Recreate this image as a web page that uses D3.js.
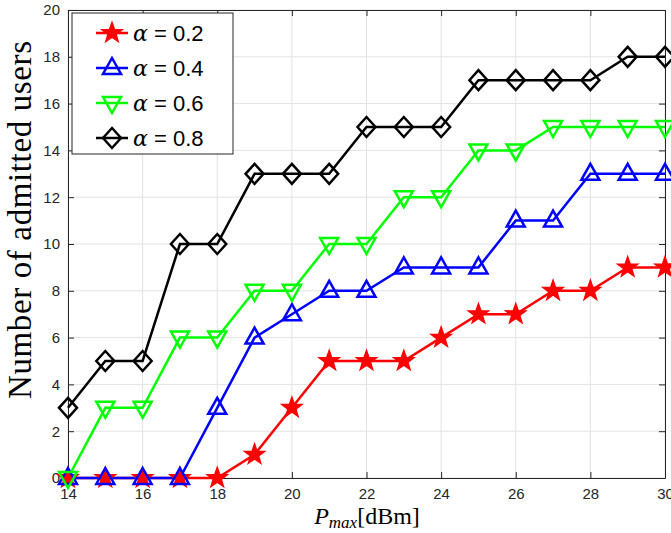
<!DOCTYPE html>
<html>
<head>
<meta charset="utf-8">
<script src="https://cdn.jsdelivr.net/npm/d3@7"></script>
<style>
  body { margin: 0; background: #fff; }
  svg text { font-family: "Liberation Sans", Arial, sans-serif; }
</style>
</head>
<body>
<div id="chart"></div>
<script>
const svgWidth = 671;
const svgHeight = 533;

const margin = { top: 10, right: 6, bottom: 55, left: 68 };
const width = svgWidth - margin.left - margin.right;
const height = svgHeight - margin.top - margin.bottom;

// data
const pmax = [14, 15, 16, 17, 18, 19, 20, 21, 22, 23, 24, 25, 26, 27, 28, 29, 30];
const alpha02 = [0, 0, 0, 0, 0, 1, 3, 5, 5, 5, 6, 7, 7, 8, 8, 9, 9];
const alpha04 = [0, 0, 0, 0, 3, 6, 7, 8, 8, 9, 9, 9, 11, 11, 13, 13, 13];
const alpha06 = [0, 3, 3, 6, 6, 8, 8, 10, 10, 12, 12, 14, 14, 15, 15, 15, 15];
const alpha08 = [3, 5, 5, 10, 10, 13, 13, 13, 15, 15, 15, 17, 17, 17, 17, 18, 18];
const xTicks = [14, 16, 18, 20, 22, 24, 26, 28, 30];
const yTicks = [0, 2, 4, 6, 8, 10, 12, 14, 16, 18, 20];

const series = [
    { name: "0.2", values: alpha02, color: "#ff0000", marker: "star" },
    { name: "0.4", values: alpha04, color: "#0000ff", marker: "up" },
    { name: "0.6", values: alpha06, color: "#00ff00", marker: "down" },
    { name: "0.8", values: alpha08, color: "#000000", marker: "diamond" }
];

const xScale = d3.scaleLinear().domain([14, 30]).range([0, width]);
const yScale = d3.scaleLinear().domain([0, 20]).range([height, 0]);

function markerPath(type) {
    if (type === "star") {
        const pts = [];
        for (let i = 0; i < 10; i++) {
            const r = i % 2 === 0 ? 10.5 : 4.2;
            const a = -Math.PI / 2 + i * Math.PI / 5;
            pts.push([r * Math.cos(a), r * Math.sin(a)]);
        }
        return "M" + pts.map(p => p.join(",")).join("L") + "Z";
    }
    if (type === "up") return "M0,-10L9,6L-9,6Z";
    if (type === "down") return "M0,10L9,-6L-9,-6Z";
    return "M0,-10L9,0L0,10L-9,0Z";
}

const svg = d3.select("#chart").append("svg")
    .attr("width", svgWidth)
    .attr("height", svgHeight);

const chartGroup = svg.append("g")
    .attr("transform", `translate(${margin.left}, ${margin.top})`);

// grid
chartGroup.append("g")
    .selectAll("line")
    .data(xTicks)
    .enter().append("line")
    .attr("x1", d => xScale(d)).attr("x2", d => xScale(d))
    .attr("y1", 0).attr("y2", height)
    .attr("stroke", "#e3e3e3").attr("stroke-width", 1);
chartGroup.append("g")
    .selectAll("line")
    .data(yTicks)
    .enter().append("line")
    .attr("y1", d => yScale(d)).attr("y2", d => yScale(d))
    .attr("x1", 0).attr("x2", width)
    .attr("stroke", "#e3e3e3").attr("stroke-width", 1);

// axes
const axisX = chartGroup.append("g")
    .attr("transform", `translate(0, ${height})`)
    .call(d3.axisBottom(xScale).tickValues(xTicks).tickSizeInner(-6).tickSizeOuter(0).tickPadding(10));
const axisY = chartGroup.append("g")
    .call(d3.axisLeft(yScale).tickValues(yTicks).tickSizeInner(-6).tickSizeOuter(0).tickPadding(8));
const axisTop = chartGroup.append("g")
    .call(d3.axisTop(xScale).tickValues(xTicks).tickSizeInner(-6).tickSizeOuter(0).tickFormat(""));
const axisRight = chartGroup.append("g")
    .attr("transform", `translate(${width}, 0)`)
    .call(d3.axisRight(yScale).tickValues(yTicks).tickSizeInner(-6).tickSizeOuter(0).tickFormat(""));

[axisX, axisY, axisTop, axisRight].forEach(a => {
    a.select(".domain").attr("stroke", "#262626").attr("stroke-width", 1);
    a.selectAll(".tick line").attr("stroke", "#262626");
    a.selectAll(".tick text")
        .attr("fill", "#262626")
        .style("font-family", "'Liberation Sans', Arial, sans-serif")
        .style("font-size", "15px");
});

// lines and markers
const line = d3.line()
    .x((d, i) => xScale(pmax[i]))
    .y(d => yScale(d));

series.forEach(s => {
    chartGroup.append("path")
        .datum(s.values)
        .attr("d", line)
        .attr("fill", "none")
        .attr("stroke", s.color)
        .attr("stroke-width", 2.5);
});
series.forEach(s => {
    chartGroup.selectAll(null)
        .data(s.values)
        .enter()
        .append("path")
        .attr("transform", (d, i) => `translate(${xScale(pmax[i])}, ${yScale(d)})`)
        .attr("d", markerPath(s.marker))
        .attr("fill", s.marker === "star" ? s.color : "none")
        .attr("stroke", s.color)
        .attr("stroke-width", s.marker === "star" ? 1.5 : 2.5);
});

// legend
const legend = svg.append("g").attr("transform", "translate(72, 13)");
legend.append("rect")
    .attr("width", 161).attr("height", 141)
    .attr("fill", "#fff").attr("stroke", "#262626").attr("stroke-width", 1);
series.forEach((s, i) => {
    const g = legend.append("g").attr("transform", `translate(0, ${20 + i * 35})`);
    g.append("line").attr("x1", 24).attr("x2", 56).attr("y1", 0).attr("y2", 0)
        .attr("stroke", s.color).attr("stroke-width", 2.5);
    g.append("path").attr("transform", "translate(40, 0)")
        .attr("d", markerPath(s.marker))
        .attr("fill", s.marker === "star" ? s.color : "none")
        .attr("stroke", s.color).attr("stroke-width", s.marker === "star" ? 1.5 : 2.5);
    const t = g.append("text").attr("x", 61).attr("y", 8).style("font-size", "22px").attr("fill", "#000");
    t.append("tspan").text("α").style("font-family", "'DejaVu Serif', serif").style("font-style", "italic");
    t.append("tspan").text(" = " + s.name);
});

// axis labels
svg.append("text")
    .attr("x", 367)
    .attr("y", 524)
    .attr("text-anchor", "middle")
    .style("font-family", "'Liberation Serif', 'DejaVu Serif', serif")
    .style("font-size", "24px")
    .call(t => {
        t.append("tspan").text("P").style("font-style", "italic");
        t.append("tspan").text("max").style("font-style", "italic").style("font-size", "17px").attr("dy", 4);
        t.append("tspan").text("[dBm]").attr("dy", -4);
    });

svg.append("text")
    .attr("transform", "translate(31, 220) rotate(-90)")
    .attr("text-anchor", "middle")
    .attr("textLength", 358)
    .attr("lengthAdjust", "spacing")
    .style("font-family", "'Liberation Serif', 'DejaVu Serif', serif")
    .style("font-size", "33px")
    .text("Number of admitted users");
</script>
</body>
</html>
